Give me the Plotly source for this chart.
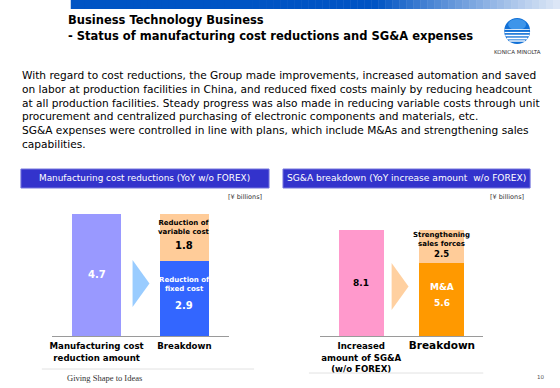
import math
import plotly.graph_objects as go

# ---------------- data ----------------
mfg_categories = ["Manufacturing cost<br>reduction amount", "Breakdown"]
mfg_total = [4.7]
mfg_fixed = [2.9]
mfg_variable = [1.8]

sga_categories = ["Increased<br>amount of SG&A<br>(w/o FOREX)", "Breakdown"]
sga_total = [8.1]
sga_ma = [5.6]
sga_sales = [2.5]

# ---------------- helpers ----------------
W, H = 560, 388


def px(x):
    return x / W


def py(y):
    return 1 - y / H


FONT = "DejaVu Sans"

fig = go.Figure()

# Left chart
fig.add_trace(go.Bar(x=[0], y=mfg_total, width=0.557, marker=dict(color="#9999FF", line=dict(width=0)),
                     xaxis="x", yaxis="y", hoverinfo="skip"))
fig.add_trace(go.Bar(x=[1], y=mfg_fixed, width=0.557, marker=dict(color="#3366FF", line=dict(width=0)),
                     xaxis="x", yaxis="y", hoverinfo="skip"))
fig.add_trace(go.Bar(x=[1], y=mfg_variable, width=0.557, marker=dict(color="#FFCC99", line=dict(width=0)),
                     xaxis="x", yaxis="y", hoverinfo="skip"))

# Right chart
fig.add_trace(go.Bar(x=[0], y=sga_total, width=0.556, marker=dict(color="#FF99CC", line=dict(width=0)),
                     xaxis="x2", yaxis="y2", hoverinfo="skip"))
fig.add_trace(go.Bar(x=[1], y=sga_ma, width=0.556, marker=dict(color="#FF9900", line=dict(width=0)),
                     xaxis="x2", yaxis="y2", hoverinfo="skip"))
fig.add_trace(go.Bar(x=[1], y=sga_sales, width=0.556, marker=dict(color="#FFCC99", line=dict(width=0)),
                     xaxis="x2", yaxis="y2", hoverinfo="skip"))

tickfont = dict(family=FONT, size=8.6, color="#000000")
axis_common = dict(showgrid=False, zeroline=False, showline=True, linecolor="#9a9a9a", linewidth=1,
                   ticks="", tickvals=[0, 1], fixedrange=True, tickfont=tickfont, ticklabelstandoff=2)

fig.update_layout(
    width=W, height=H,
    margin=dict(l=0, r=0, t=0, b=0),
    paper_bgcolor="white", plot_bgcolor="white",
    barmode="stack", showlegend=False,
    xaxis=dict(domain=[px(50), px(228)], range=[-0.51, 1.51],
               ticktext=["<b>" + c + "</b>" for c in mfg_categories], **axis_common),
    yaxis=dict(domain=[py(336), py(188)], range=[0, 148 / 26.0], visible=False, fixedrange=True),
    xaxis2=dict(domain=[px(319), px(483)], range=[-0.512, 1.512],
                ticktext=["<b>" + sga_categories[0] + "</b>",
                          "<b><span style='font-size:10.5px'>" + sga_categories[1] + "</span></b>"],
                **axis_common),
    yaxis2=dict(domain=[py(336), py(188)], range=[0, 148 / 13.1], visible=False, fixedrange=True),
)

shapes = []
annotations = []

# top gradient bar
N = 70
x0, x1 = 69, 560
start = (0, 84, 196)
end = (228, 236, 248)
for i in range(N):
    xa = x0 + (x1 - x0) * i / N
    xb = x0 + (x1 - x0) * (i + 1) / N + 0.5
    t = (xa - x0) / (x1 - x0)
    f = 0 if t < 0.62 else ((t - 0.62) / 0.38) ** 0.9
    c = tuple(int(start[k] + (end[k] - start[k]) * f) for k in range(3))
    shapes.append(dict(type="rect", xref="paper", yref="paper", x0=px(xa), x1=px(xb), y0=py(9), y1=py(0),
                       fillcolor="rgb(%d,%d,%d)" % c, line=dict(width=0), layer="below"))

# title
annotations.append(dict(xref="paper", yref="paper", x=px(64), y=py(20), xanchor="left", yanchor="middle",
                        text="<b>Business Technology Business</b>", showarrow=False,
                        font=dict(family=FONT, size=11.5, color="#000")))
annotations.append(dict(xref="paper", yref="paper", x=px(64), y=py(35.5), xanchor="left", yanchor="middle",
                        text="<b>- Status of manufacturing cost reductions and SG&A expenses</b>", showarrow=False,
                        font=dict(family=FONT, size=11.5, color="#000")))

# logo
cx, cy, r = 517, 31, 13
shapes.append(dict(type="circle", xref="paper", yref="paper", x0=px(cx - r), x1=px(cx + r), y0=py(cy + r),
                   y1=py(cy - r), fillcolor="#1170d6", line=dict(width=0)))
shapes.append(dict(type="circle", xref="paper", yref="paper", x0=px(cx - 9), x1=px(cx + 9), y0=py(cy - 1),
                   y1=py(cy - 12), fillcolor="#3d95ea", line=dict(width=0)))
for dy, lw in [(-1.5, 0.8), (1.5, 1.2), (4.5, 1.6), (7.5, 1.8), (10, 1.4)]:
    half = math.sqrt(max(r * r - dy * dy, 0)) - 0.3
    shapes.append(dict(type="line", xref="paper", yref="paper", x0=px(cx - half), x1=px(cx + half),
                       y0=py(cy + dy), y1=py(cy + dy), line=dict(color="white", width=lw)))
annotations.append(dict(xref="paper", yref="paper", x=px(517), y=py(52), xanchor="center", yanchor="middle",
                        text="KONICA MINOLTA", showarrow=False, font=dict(family=FONT, size=5.5, color="#333")))

# body text
body = ("With regard to cost reductions, the Group made improvements, increased automation and saved<br>"
        "on labor at production facilities in China, and reduced fixed costs mainly by reducing headcount<br>"
        "at all production facilities. Steady progress was also made in reducing variable costs through unit<br>"
        "procurement and centralized purchasing of electronic components and materials, etc.<br>"
        "SG&A expenses were controlled in line with plans, which include M&As and strengthening sales<br>"
        "capabilities.")
annotations.append(dict(xref="paper", yref="paper", x=px(18), y=py(66.5), xanchor="left", yanchor="top",
                        align="left", text=body, showarrow=False, font=dict(family=FONT, size=10.6, color="#000")))

# header boxes
for (xa, xb, label, fs) in [(19, 268, "Manufacturing cost reductions (YoY w/o FOREX)", 8.9),
                            (282, 530, "SG&A breakdown (YoY increase amount  w/o FOREX)", 9.1)]:
    shapes.append(dict(type="rect", xref="paper", yref="paper", x0=px(xa), x1=px(xb), y0=py(188), y1=py(169),
                       fillcolor="#3333CC", line=dict(color="#7777dd", width=1)))
    annotations.append(dict(xref="paper", yref="paper", x=px((xa + xb) / 2), y=py(178.5), xanchor="center",
                            yanchor="middle", text=label, showarrow=False,
                            font=dict(family=FONT, size=fs, color="white")))

for xr in [263, 526]:
    annotations.append(dict(xref="paper", yref="paper", x=px(xr), y=py(197), xanchor="right", yanchor="middle",
                            text="[¥ billions]", showarrow=False, font=dict(family=FONT, size=6.5, color="#333")))

# arrows
shapes.append(dict(type="path", xref="paper", yref="paper",
                   path="M %f,%f L %f,%f L %f,%f Z" % (px(131), py(260), px(148), py(283.5), px(131), py(307)),
                   fillcolor="#99CCFF", line=dict(width=0)))
shapes.append(dict(type="path", xref="paper", yref="paper",
                   path="M %f,%f L %f,%f L %f,%f Z" % (px(391), py(263), px(408), py(286.5), px(391), py(310)),
                   fillcolor="#FFD0A0", line=dict(width=0)))

# in-bar labels
def lab(xref, yref, x, y, text, size, color, yshift):
    annotations.append(dict(xref=xref, yref=yref, x=x, y=y, text="<b>" + text + "</b>", showarrow=False,
                            xanchor="center", yanchor="middle", yshift=yshift,
                            font=dict(family=FONT, size=size, color=color)))

lab("x", "y", 0, mfg_total[0] / 2, "%.1f" % mfg_total[0], 10, "white", 0)
mid_fixed = mfg_fixed[0] / 2
mid_var = mfg_fixed[0] + mfg_variable[0] / 2
lab("x", "y", 1, mid_var, "Reduction of<br>variable cost", 7, "#000", 10)
lab("x", "y", 1, mid_var, "%.1f" % mfg_variable[0], 10, "#000", -8)
lab("x", "y", 1, mid_fixed, "Reduction of<br>fixed cost", 7, "white", 14)
lab("x", "y", 1, mid_fixed, "%.1f" % mfg_fixed[0], 10, "white", -7)

lab("x2", "y2", 0, sga_total[0] / 2, "%.1f" % sga_total[0], 9, "#000", 0)
mid_ma = sga_ma[0] / 2
mid_sales = sga_ma[0] + sga_sales[0] / 2
lab("x2", "y2", 1, mid_ma, "M&A", 9, "white", 12)
lab("x2", "y2", 1, mid_ma, "%.1f" % sga_ma[0], 9, "white", -4)
lab("x2", "y2", 1, mid_sales, "Strengthening<br>sales forces", 7, "#000", 7)
lab("x2", "y2", 1, mid_sales, "%.1f" % sga_sales[0], 8.5, "#000", -8)

# footer
shapes.append(dict(type="line", xref="paper", yref="paper", x0=px(40), x1=px(253), y0=py(369), y1=py(369),
                   line=dict(color="#e2e2e2", width=1)))
shapes.append(dict(type="line", xref="paper", yref="paper", x0=px(308), x1=px(483), y0=py(373), y1=py(373),
                   line=dict(color="#e2e2e2", width=1)))
annotations.append(dict(xref="paper", yref="paper", x=px(63), y=py(377.5), xanchor="left", yanchor="middle",
                        text="Giving Shape to Ideas", showarrow=False,
                        font=dict(family="Liberation Serif", size=8.5, color="#333")))
annotations.append(dict(xref="paper", yref="paper", x=px(540), y=py(377), xanchor="center", yanchor="middle",
                        text="10", showarrow=False, font=dict(family=FONT, size=5.5, color="#555")))

fig.update_layout(shapes=shapes, annotations=annotations)
fig.write_html("out.html", config={"displayModeBar": False},
               post_script="document.body.style.margin='0px';document.body.style.overflow='hidden';")
